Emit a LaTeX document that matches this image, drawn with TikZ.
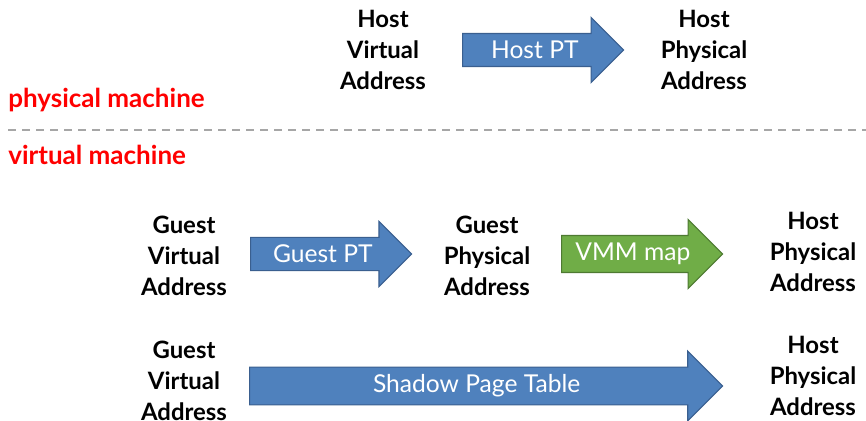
\documentclass[tikz,border=0pt]{standalone}
\usepackage{fontspec}
\setmainfont{Lato}
\usetikzlibrary{shapes.arrows}

\definecolor{ptblue}{HTML}{4F81BD}
\definecolor{ptblueline}{HTML}{3A5F8F}
\definecolor{vmmgreen}{HTML}{70AD47}
\definecolor{vmmgreenline}{HTML}{4E7A32}

\tikzset{
    addr/.style={align=center, font=\fontsize{17}{22}\selectfont\bfseries},
    machine/.style={anchor=base west, inner sep=0pt, text=red, font=\fontsize{18.5}{20}\selectfont\bfseries},
    maparrow/.style={single arrow, anchor=tail, draw=#1line, fill=#1, text=white,
        line width=0.8pt, single arrow head extend=0.4cm, inner xsep=2pt, inner ysep=5pt,
        font=\fontsize{17.5}{20}\selectfont},
}

\begin{document}
\begin{tikzpicture}[x=0.025cm,y=-0.025cm]
    \useasboundingbox (0,0) rectangle (866,420);
    % physical machine
    \node[addr] (hva) at (383,50) {Host\\Virtual\\Address};
    \node[maparrow=ptblue, minimum height=4.025cm] (hostpt) at (462,50) {Host PT};
    \node[addr] (hpa) at (704,50) {Host\\Physical\\Address};
    \node[machine] (phys) at (8,107) {physical machine};
    \draw[gray!70, line width=1.5pt, dash pattern=on 0.2cm off 0.15cm] (8,130) -- (866,130);
    \node[machine] (virt) at (8,164) {virtual machine};
    % two-stage translation
    \node[addr] (gva) at (184,256) {Guest\\Virtual\\Address};
    \node[maparrow=ptblue, minimum height=4.025cm] (guestpt) at (250,254) {Guest PT};
    \node[addr] (gpa) at (487,256) {Guest\\Physical\\Address};
    \node[maparrow=vmmgreen, minimum height=4.025cm] (vmm) at (561,254) {VMM map};
    \node[addr] (hpa2) at (813,252) {Host\\Physical\\Address};
    % shadow page table
    \node[addr] (gvb) at (184,381) {Guest\\Virtual\\Address};
    \node[maparrow=ptblue, minimum height=11.825cm] (shadow) at (249,386) {Shadow Page Table};
    \node[addr] (hpb) at (813,376) {Host\\Physical\\Address};
\end{tikzpicture}
\end{document}
